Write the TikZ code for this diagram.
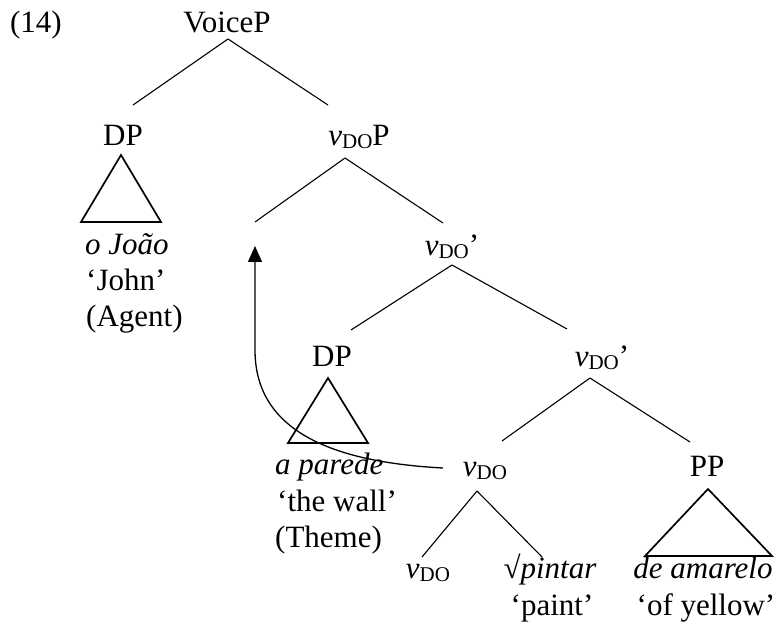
\documentclass[tikz,border=0pt]{standalone}
\usepackage{fontspec}
\setmainfont{Liberation Serif}
\usepackage{tikz}
\usetikzlibrary{calc,arrows.meta}
\newcommand{\vsub}{\textit{v}\raisebox{-3pt}{\fontsize{21}{21}\selectfont DO}}

\begin{document}
\begin{tikzpicture} [x=1pt,y=-1pt,
       >={Triangle[width=14pt,length=16pt]}, black, text=black,
	   every node/.style={font=\fontsize{31}{36}\selectfont, inner sep=0pt, anchor=base},
	   treeline/.style = {line width=1.1pt},
	   roof/.style = {line width=1.7pt, line join=miter},
	   gloss/.style = {anchor=base west},
	   move/.style = {->, line width=1.3pt}]
	\useasboundingbox (0,0) rectangle (777,628);

	%% Labels
	\node (ex) at (36,33) {(14)};
	\node (voice) at (227,33) {VoiceP};
	\node (dpA) at (123,146) {DP};
	\node (vdop) at (359,146) {\vsub P};
	\coordinate (trace) at (255,246);
	\node (vbarA) at (452,256) {\vsub’};
	\node (dpB) at (332,367) {DP};
	\node (vbarB) at (602,367) {\vsub’};
	\node (vdo) at (485,476) {\vsub};
	\node (pp) at (707,476) {PP};
	\node (vdoL) at (428,578) {\vsub};
	\node (pintar) at (550,578) {√\textit{pintar}};
	\node (paint) at (552,615) {`paint'};
	\node (deam) at (703,578) {\textit{de amarelo}};
	\node (ofyel) at (706,615) {`of yellow'};

	%% Glosses under the roofs
	\node [gloss] (joao) at (85,255) {\textit{o João}};
	\node [gloss] (john) at (86,291) {`John'};
	\node [gloss] (agent) at (86,327) {(Agent)};
	\node [gloss] (parede) at (275,475) {\textit{a parede}};
	\node [gloss] (wall) at (277,511) {`the wall'};
	\node [gloss] (theme) at (275,547) {(Theme)};

	%% Branches
	\draw [treeline] ($(voice.base)+(1,6)$) -- ($(dpA.base)+(10,-41)$);
	\draw [treeline] ($(voice.base)+(1,6)$) -- ($(vdop.base)+(-31,-41)$);
	\draw [treeline] ($(vdop.base)+(-14,12)$) -- ($(trace)+(0,-24)$);
	\draw [treeline] ($(vdop.base)+(-14,12)$) -- ($(vbarA.base)+(-9,-33)$);
	\draw [treeline] ($(vbarA.base)+(0,9)$) -- ($(dpB.base)+(19,-37)$);
	\draw [treeline] ($(vbarA.base)+(0,9)$) -- ($(vbarB.base)+(-35,-38)$);
	\draw [treeline] ($(vbarB.base)+(-12,11)$) -- ($(vdo.base)+(17,-35)$);
	\draw [treeline] ($(vbarB.base)+(-12,11)$) -- ($(pp.base)+(-17,-34)$);
	\draw [treeline] ($(vdo.base)+(-8,15)$) -- ($(vdoL.base)+(-6,-21)$);
	\draw [treeline] ($(vdo.base)+(-8,15)$) -- ($(pintar.base)+(-8,-21)$);

	%% Roofs
	\draw [roof] ($(dpA.base)+(-2,9)$) -- ++(-40,67) -- ++(80,0) -- cycle;
	\draw [roof] ($(dpB.base)+(-4,11)$) -- ++(-40,65) -- ++(80,0) -- cycle;
	\draw [roof] ($(pp.base)+(1,13)$) -- ++(-63,67) -- ++(127,0) -- cycle;

	%% Movement
	\draw [move] ($(vdo.base)+(-42,-8)$) .. controls (330,462) and (255,430) .. (255,350) -- (trace);
\end{tikzpicture}
\end{document}
